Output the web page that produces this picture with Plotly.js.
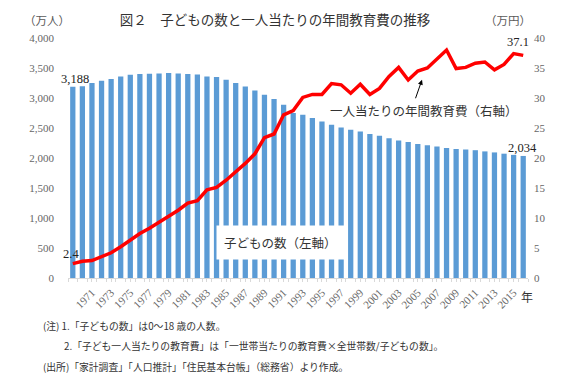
<!DOCTYPE html>
<html>
<head>
<meta charset="utf-8">
<script src="https://cdn.plot.ly/plotly-3.0.1.min.js"></script>
<style>html,body{margin:0;padding:0;background:#fff;}#chart{width:567px;height:382px;}</style>
</head>
<body>
<div id="chart"></div>
<script>
// Years (categories)
const years = [1969,1970,1971,1972,1973,1974,1975,1976,1977,1978,1979,1980,1981,1982,1983,1984,1985,1986,1987,1988,1989,1990,1991,1992,1993,1994,1995,1996,1997,1998,1999,2000,2001,2002,2003,2004,2005,2006,2007,2008,2009,2010,2011,2012,2013,2014,2015,2016];
// Number of children (万人), left axis
const children = [3188,3195,3248,3288,3318,3360,3388,3400,3405,3408,3415,3410,3402,3390,3360,3350,3305,3250,3193,3127,3055,2983,2888,2750,2722,2667,2610,2555,2510,2472,2440,2400,2370,2330,2290,2265,2235,2212,2190,2168,2152,2140,2130,2110,2093,2072,2052,2034];
// Annual education expense per child (万円), right axis
const expense = [2.4,2.8,2.9,3.5,4.2,5.2,6.3,7.4,8.3,9.3,10.4,11.3,12.5,12.9,14.7,15.1,16.3,17.7,19.1,20.7,23.4,24.0,27.2,27.9,30.1,30.6,30.6,32.4,32.2,30.8,32.3,30.6,31.6,33.6,35.1,33.0,34.5,35.0,36.5,38.0,34.9,35.1,35.8,36.0,34.7,35.6,37.4,37.1];
// Tick labels
const xTickVals = [1971,1973,1975,1977,1979,1981,1983,1985,1987,1989,1991,1993,1995,1997,1999,2001,2003,2005,2007,2009,2011,2013,2015];
const xTickText = xTickVals.map(String);
const yTickVals = [0,500,1000,1500,2000,2500,3000,3500,4000];
const y2TickVals = [0,5,10,15,20,25,30,35,40];

const serif = 'Liberation Serif, DejaVu Serif, serif';
const jp = 'Noto Sans CJK JP, Noto Sans, sans-serif';

const traces = [
  {type:'bar', x:years, y:children, marker:{color:'#5B9BD5'}, yaxis:'y', hoverinfo:'skip'},
  {type:'scatter', mode:'lines', x:years, y:expense, yaxis:'y2', line:{color:'#FF0000', width:3.5}, hoverinfo:'skip'}
];

const first = 0, last = years.length - 1;

function note(x, y, text, font, extra) {
  return Object.assign({xref:'paper', yref:'paper', x:x, y:y, text:text, showarrow:false,
    xanchor:'center', yanchor:'middle', font:font}, extra || {});
}

const layout = {
  width:567, height:382,
  margin:{l:68, r:39, t:38, b:104},
  paper_bgcolor:'#fff', plot_bgcolor:'#fff',
  showlegend:false,
  bargap:0.45,
  title:{text:'図２　子どもの数と一人当たりの年間教育費の推移', font:{family:jp, size:13.5, color:'#333'},
         xref:'paper', x:0.45, xanchor:'center', yref:'container', y:0.948, yanchor:'middle'},
  xaxis:{range:[1968.5, 2016.5], tickmode:'array', tickvals:xTickVals, ticktext:xTickText, tickangle:-45,
         tickfont:{family:serif, size:11, color:'#666'}, showgrid:false, zeroline:false,
         showline:true, linecolor:'#d9d9d9', linewidth:1, ticks:'outside', ticklen:3, tickcolor:'#d9d9d9',
         minor:{tickmode:'linear', tick0:1968.5, dtick:1, ticks:'outside', ticklen:3, tickcolor:'#d9d9d9'}},
  yaxis:{range:[0,4000], tickmode:'array', tickvals:yTickVals, tickformat:',', showgrid:false, zeroline:false,
         tickfont:{family:serif, size:11, color:'#666'}, ticklabelstandoff:13},
  yaxis2:{range:[0,40], overlaying:'y', side:'right', tickmode:'array', tickvals:y2TickVals, showgrid:false, zeroline:false,
          tickfont:{family:serif, size:11, color:'#666'}, ticklabelstandoff:5},
  annotations:[
    note(-0.0457, 1.076, '（万人）', {family:jp, size:11.5, color:'#595959'}),
    note(0.9565, 1.076, '（万円）', {family:jp, size:11.5, color:'#595959'}),
    {xref:'x', yref:'y', x:years[first], y:children[first], text:'3,188', showarrow:false, xanchor:'center', yanchor:'bottom', xshift:2, yshift:-1, font:{family:serif, size:12.5, color:'#222'}},
    {xref:'x', yref:'y', x:years[last], y:children[last], text:'2,034', showarrow:false, xanchor:'center', yanchor:'bottom', xshift:-1, yshift:-1, font:{family:serif, size:12.5, color:'#222'}},
    {xref:'x', yref:'y2', x:years[first], y:expense[first], text:'2.4', showarrow:false, xanchor:'center', yanchor:'bottom', xshift:-2, yshift:1, font:{family:serif, size:12.5, color:'#222'}},
    {xref:'x', yref:'y2', x:years[last], y:expense[last], text:'37.1', showarrow:false, xanchor:'center', yanchor:'bottom', xshift:-5, yshift:4, font:{family:serif, size:12.5, color:'#222'}},
    note(0.774, 0.697, '一人当たりの年間教育費（右軸）', {family:jp, size:12.5, color:'#333'}),
    {xref:'paper', yref:'paper', x:0.7696, y:0.826, text:'', showarrow:true, ax:-7, ay:20, arrowhead:2, arrowsize:1, arrowwidth:1, arrowcolor:'#000'},
    note(0.463, 0.147, '子どもの数（左軸）', {family:jp, size:12.5, color:'#333'}, {bgcolor:'#fff', borderpad:7}),
    note(0.998, -0.078, '年', {family:jp, size:12, color:'#333'}),
    note(-0.059, -0.199, '(注) 1.「子どもの数」は0～18 歳の人数。', {family:jp, size:9.8, color:'#333'}, {xanchor:'left'}),
    note(-0.013, -0.285, '2.「子ども一人当たりの教育費」は「一世帯当たりの教育費×全世帯数/子どもの数」。', {family:jp, size:9.8, color:'#333'}, {xanchor:'left'}),
    note(-0.059, -0.369, '(出所)「家計調査」「人口推計」「住民基本台帳」（総務省）より作成。', {family:jp, size:9.8, color:'#333'}, {xanchor:'left'})
  ]
};

Plotly.newPlot('chart', traces, layout, {staticPlot:true, displayModeBar:false});
</script>
</body>
</html>
